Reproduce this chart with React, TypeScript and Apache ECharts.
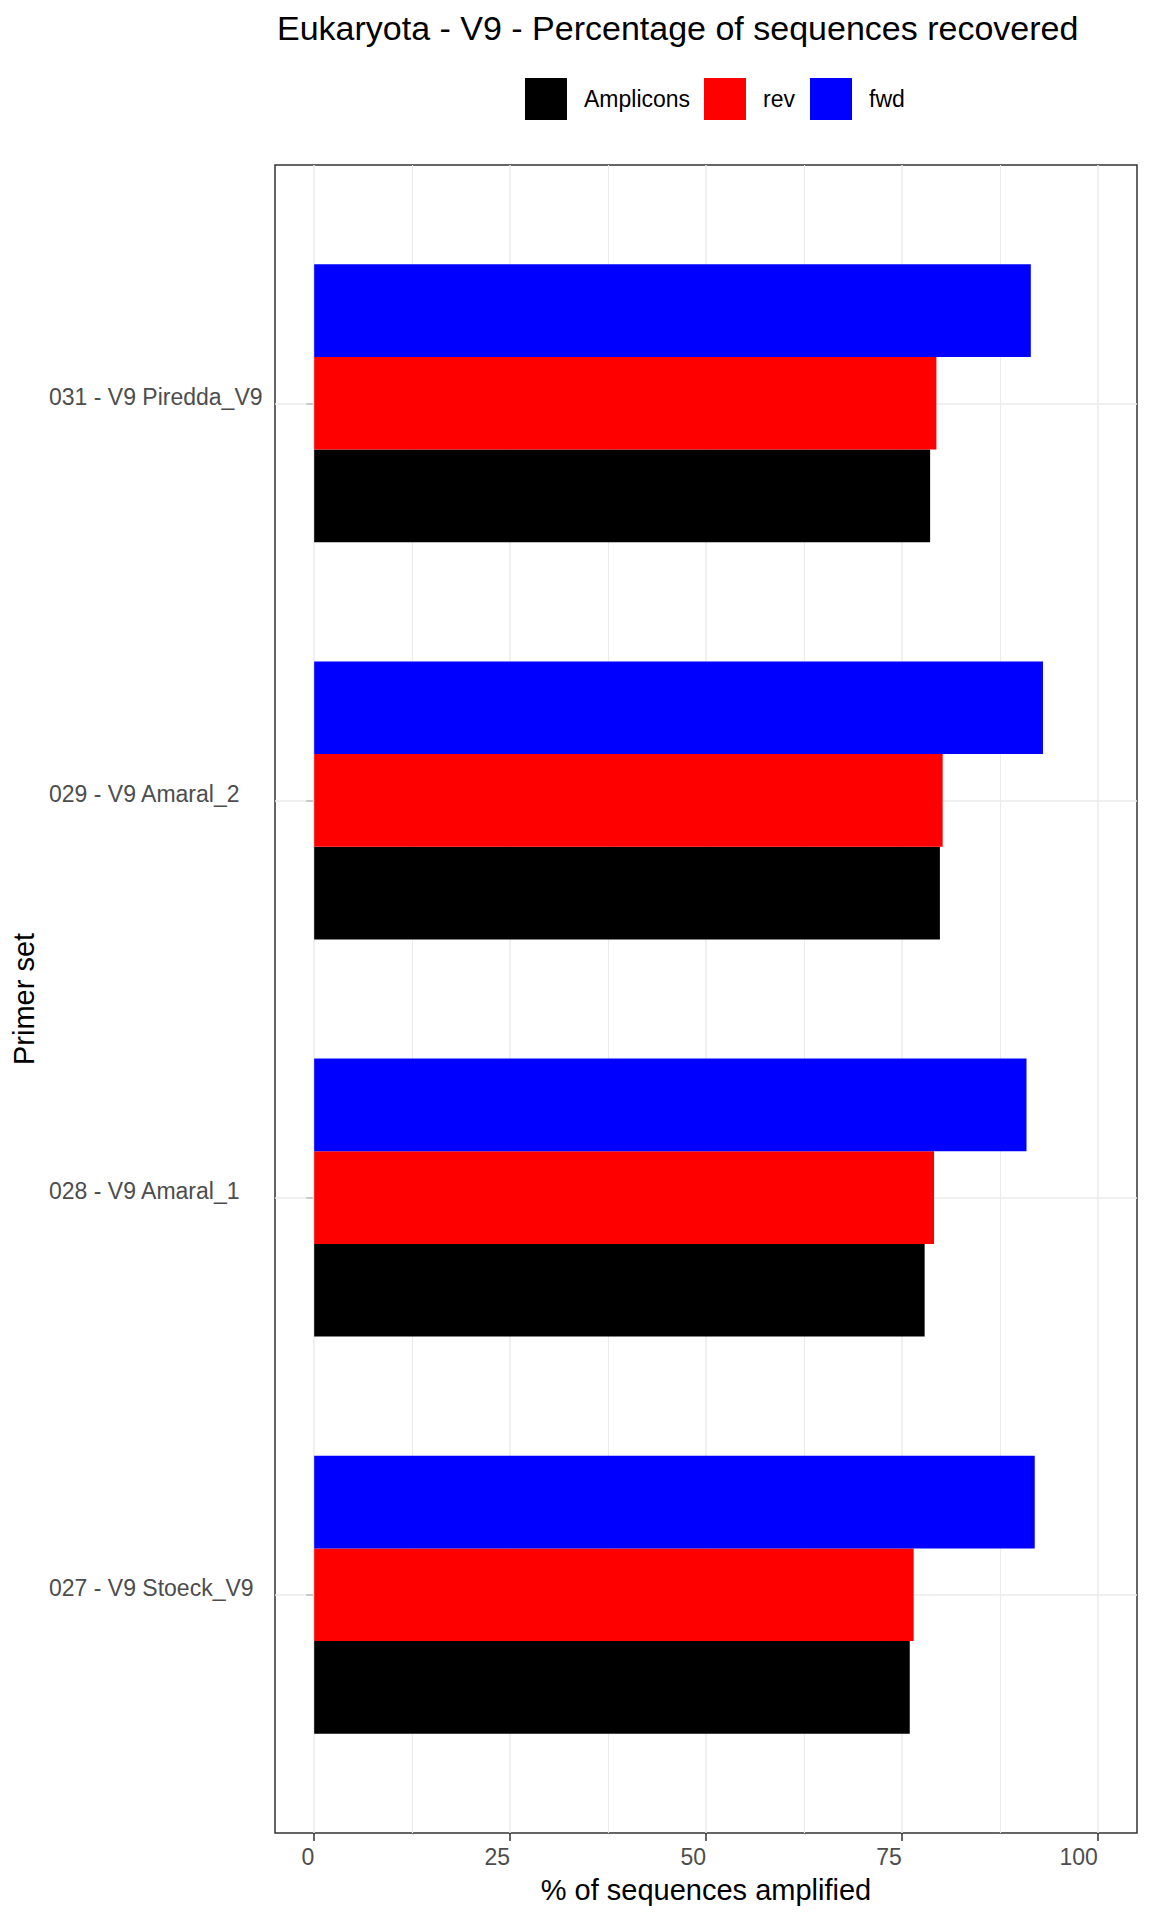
import React, { useEffect, useRef } from "react";
import * as echarts from "echarts";

// Categories from bottom (position 1) to top (position 4)
const categories = [
  "027 - V9 Stoeck_V9",
  "028 - V9 Amaral_1",
  "029 - V9 Amaral_2",
  "031 - V9 Piredda_V9",
];
const amplicons = [76.0, 77.9, 79.85, 78.6];
const rev = [76.5, 79.1, 80.2, 79.4];
const fwd = [91.95, 90.9, 93.0, 91.45];

const xTicks = [0, 25, 50, 75, 100];
const xMinor = [12.5, 37.5, 62.5, 87.5];
const yTicks = [1, 2, 3, 4];

const seriesDefs = [
  { name: "Amplicons", values: amplicons, color: "#000000", offset: -0.7 / 3 },
  { name: "rev", values: rev, color: "#ff0000", offset: 0 },
  { name: "fwd", values: fwd, color: "#0000ff", offset: 0.7 / 3 },
];

const FONT = "'Liberation Sans', Arial, sans-serif";

export default function App() {
  const ref = useRef<HTMLDivElement>(null);
  useEffect(() => {
    if (!ref.current) return;
    const chart = echarts.init(ref.current, null, { renderer: "svg" });
    const half = 0.7 / 6;
    const barSeries = seriesDefs.map((s) => ({
      type: "custom",
      name: s.name,
      z: 10,
      itemStyle: { color: s.color },
      encode: { x: 1, y: 0 },
      data: s.values.map((v, i) => [i + 1, v]),
      renderItem: (params: any, api: any) => {
        const pos = api.value(0) + s.offset;
        const v = api.value(1);
        const p0 = api.coord([0, pos + half]);
        const p1 = api.coord([v, pos - half]);
        return {
          type: "rect",
          shape: { x: p0[0], y: p0[1], width: p1[0] - p0[0], height: p1[1] - p0[1] },
          style: { fill: s.color },
        };
      },
    }));
    const gridLines: any[] = [];
    xTicks.forEach((v) => gridLines.push({ xAxis: v, lineStyle: { color: "#ebebeb", width: 1.5, type: "solid" } }));
    xMinor.forEach((v) => gridLines.push({ xAxis: v, lineStyle: { color: "#ebebeb", width: 1.1, type: "solid" } }));
    yTicks.forEach((v) => gridLines.push({ yAxis: v, lineStyle: { color: "#ebebeb", width: 1.5, type: "solid" } }));

    const legendPos = [525, 704, 810];
    const option: any = {
      animation: false,
      backgroundColor: "#ffffff",
      textStyle: { fontFamily: FONT },
      title: {
        text: "Eukaryota - V9 - Percentage of sequences recovered",
        left: 277,
        top: 11,
        padding: 0,
        textStyle: { fontFamily: FONT, fontSize: 34, fontWeight: "normal", color: "#000" },
      },
      legend: seriesDefs.map((s, i) => ({
        data: [s.name],
        left: legendPos[i],
        top: 78,
        padding: 0,
        itemWidth: 42,
        itemHeight: 42,
        icon: "rect",
        selectedMode: false,
        textStyle: { fontFamily: FONT, fontSize: 23, color: "#000", padding: [0, 0, 0, 12] },
      })),
      grid: {
        left: 275,
        top: 165,
        right: 15,
        bottom: 87,
        show: true,
        borderColor: "#333333",
        borderWidth: 1.5,
        backgroundColor: "transparent",
      },
      xAxis: {
        type: "value",
        min: -5,
        max: 105,
        name: "% of sequences amplified",
        nameLocation: "middle",
        nameGap: 42,
        nameTextStyle: { fontFamily: FONT, fontSize: 29, color: "#000" },
        axisLine: { show: false },
        splitLine: { show: false },
        axisTick: { show: true, customValues: xTicks, length: 8, lineStyle: { color: "#333333", width: 1.5 } },
        axisLabel: {
          customValues: xTicks,
          align: "right",
          margin: 12,
          fontFamily: FONT,
          fontSize: 23,
          color: "#4d4d4d",
        },
      },
      yAxis: {
        type: "value",
        min: 0.4,
        max: 4.6,
        name: "Primer set",
        nameLocation: "middle",
        nameGap: 234,
        nameRotate: 90,
        nameTextStyle: { fontFamily: FONT, fontSize: 29, color: "#000" },
        axisLine: { show: false },
        splitLine: { show: false },
        axisTick: { show: true, customValues: yTicks, length: 8, lineStyle: { color: "#333333", width: 1.5 } },
        axisLabel: {
          customValues: yTicks,
          align: "left",
          verticalAlign: "bottom",
          lineHeight: 13,
          margin: 226,
          fontFamily: FONT,
          fontSize: 23,
          color: "#4d4d4d",
          formatter: (v: number) => categories[Math.round(v) - 1] ?? "",
        },
      },
      series: [
        {
          type: "line",
          name: "grid",
          data: [],
          z: 1,
          silent: true,
          markLine: {
            z: 1,
            silent: true,
            symbol: ["none", "none"],
            label: { show: false },
            animation: false,
            data: gridLines,
          },
        },
        ...barSeries,
      ],
    };
    chart.setOption(option);
    return () => chart.dispose();
  }, []);
  return (
    <div
      ref={ref}
      style={{ position: "absolute", left: 0, top: 0, width: 1152, height: 1920 }}
    />
  );
}
